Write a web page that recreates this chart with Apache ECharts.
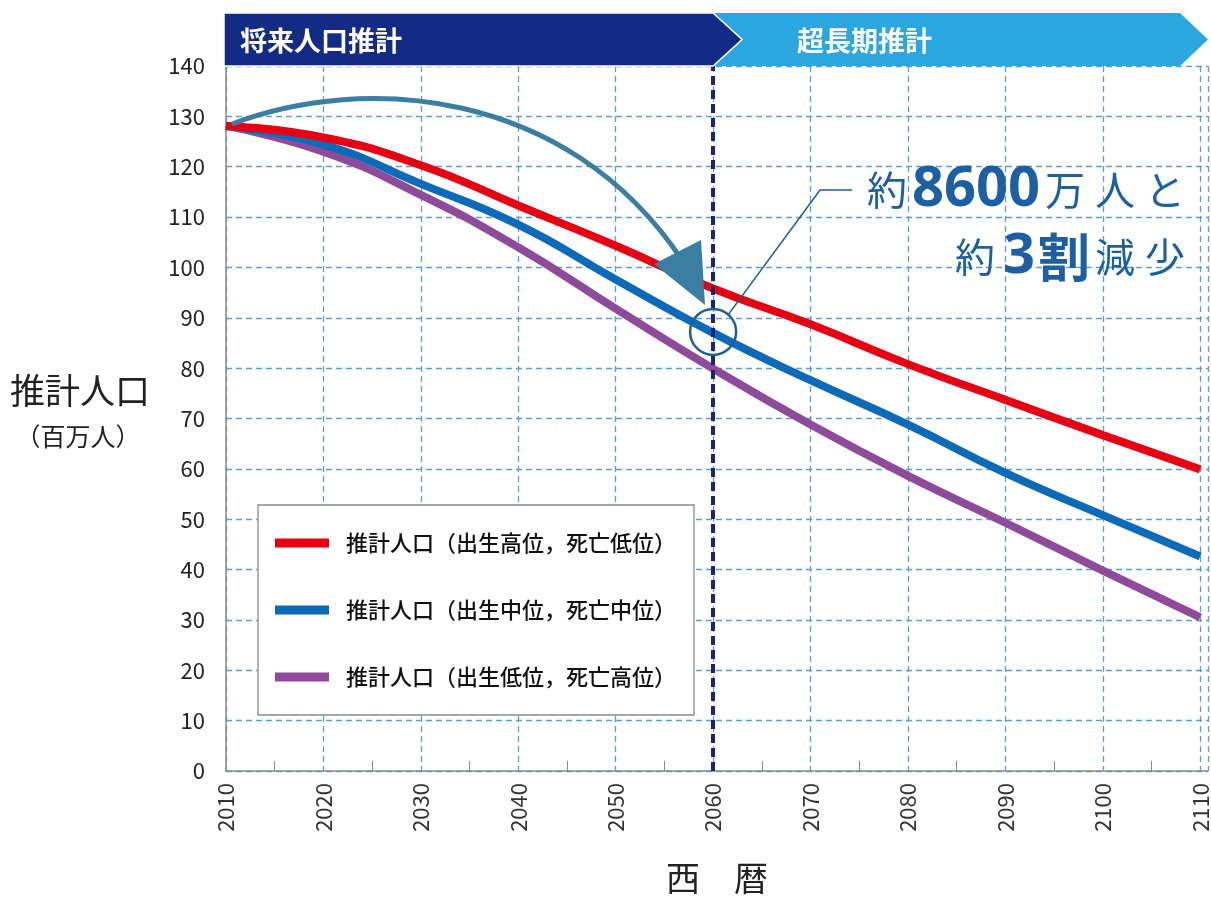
<!DOCTYPE html>
<html>
<head>
<meta charset="UTF-8">
<title>将来人口推計</title>
<script src="https://cdn.jsdelivr.net/npm/echarts@6/dist/echarts.min.js"></script>
<style>
  html, body { margin: 0; padding: 0; background: #fff; }
  #main { width: 1211px; height: 897px; }
</style>
</head>
<body>
<div id="main"></div>
<script>
// 西暦
var years = [2010, 2020, 2030, 2040, 2050, 2060, 2070, 2080, 2090, 2100, 2110];
// 推計人口（百万人）
var popHigh = [128.1, 125.8, 120.3, 112.3, 104.3, 95.8, 88.7, 80.8, 73.7, 66.7, 59.9];
var popMid  = [128.1, 124.4, 116.6, 108.5, 97.6, 87.0, 77.6, 68.8, 59.2, 50.8, 42.6];
var popLow  = [128.1, 123.0, 114.4, 104.0, 91.8, 79.9, 68.8, 58.6, 49.3, 39.8, 30.5];
var seriesNames = ['推計人口（出生高位，死亡低位）', '推計人口（出生中位，死亡中位）', '推計人口（出生低位，死亡高位）'];
var seriesColors = ['#e60012', '#0b6bb8', '#8e4b9b'];
var splitYear = 2060;

var FONT = '"Noto Sans CJK JP", "Noto Sans", sans-serif';
var chart = echarts.init(document.getElementById('main'));

function pairs(vals) {
  return years.map(function (y, i) { return [y, vals[i]]; });
}

var lineSeries = [popHigh, popMid, popLow].map(function (vals, i) {
  return {
    name: seriesNames[i],
    type: 'line',
    data: pairs(vals),
    smooth: true,
    symbol: 'none',
    z: 3 - i,
    lineStyle: { color: seriesColors[i], width: 8 },
    itemStyle: { color: seriesColors[i] }
  };
});

// 2060年の境界線
lineSeries.push({
  type: 'line',
  data: [],
  z: 10,
  markLine: {
    silent: true,
    symbol: 'none',
    label: { show: false },
    lineStyle: { color: '#1b2380', width: 4, type: [9, 5] },
    data: [{ xAxis: splitYear }]
  }
});

var option = {
  animation: false,
  backgroundColor: '#fff',
  grid: { left: 226, right: 3, top: 66, bottom: 126, outerBoundsMode: 'none', containLabel: false },
  legend: {
    data: seriesNames,
    orient: 'vertical',
    left: 258,
    top: 505,
    padding: [27, 18, 27, 17],
    itemGap: 45,
    itemWidth: 54,
    itemHeight: 9,
    icon: 'rect',
    backgroundColor: '#fff',
    borderColor: '#8a8a8a',
    borderWidth: 1.3,
    textStyle: { fontFamily: FONT, fontSize: 22, fontWeight: 500, color: '#111', padding: [0, 0, 0, 12] }
  },
  xAxis: {
    type: 'value',
    min: 2010,
    max: 2110.8,
    interval: 10,
    name: '西　暦',
    nameLocation: 'middle',
    nameGap: 90,
    nameTextStyle: { fontFamily: FONT, fontSize: 34, color: '#222' },
    axisLine: { lineStyle: { color: '#8a8a8a', width: 1.5 } },
    axisTick: { show: false, inside: true },
    minorTick: { show: true, splitNumber: 2, length: 10, lineStyle: { color: '#8a8a8a', width: 1 } },
    axisLabel: {
      rotate: 90,
      margin: 12,
      fontFamily: FONT,
      fontSize: 22,
      color: '#333',
      formatter: function (v) { return v % 10 === 0 ? String(v) : ''; }
    },
    splitLine: { show: true, lineStyle: { color: '#5a9fd8', width: 1.3, type: [6, 4] } }
  },
  yAxis: {
    type: 'value',
    min: 0,
    max: 140,
    interval: 10,
    axisLine: { show: true, lineStyle: { color: '#8a8a8a', width: 1.5 } },
    axisTick: { show: false },
    axisLabel: { margin: 21, fontFamily: FONT, fontSize: 22, color: '#222' },
    splitLine: { show: true, lineStyle: { color: '#5a9fd8', width: 1.3, type: [6, 4] } }
  },
  series: lineSeries
};

chart.setOption(option);

// 注記（帯・矢印・丸・文字）
var c = chart.convertToPixel({ gridIndex: 0 }, [splitYear, popMid[5]]);
var pTL = chart.convertToPixel({ gridIndex: 0 }, [2010, 140]);
var pBR = chart.convertToPixel({ gridIndex: 0 }, [2110.8, 0]);
var splitX = c[0];
var bandBottom = pTL[1], bandTop = 13, bandMid = (bandTop + bandBottom) / 2;
var blue = '#1d5fa3';
var big = { fontFamily: '"Open Sans", sans-serif', fontWeight: 'bold', fontSize: 56, fill: blue };
var small = { fontFamily: FONT, fontSize: 40, fill: blue, padding: [0, 5, 0, 5] };

chart.setOption({
  graphic: [
    {
      type: 'polygon',
      shape: { points: [[splitX, bandTop], [pBR[0] - 28, bandTop], [pBR[0], bandMid], [pBR[0] - 28, bandBottom], [splitX, bandBottom]] },
      style: { fill: '#2aa7df' }, z: 20
    },
    {
      type: 'polygon',
      shape: { points: [[pTL[0] - 2, bandTop], [splitX, bandTop], [splitX + 29, bandMid], [splitX, bandBottom], [pTL[0] - 2, bandBottom]] },
      style: { fill: '#142b86', stroke: '#fff', lineWidth: 1.5 }, z: 21
    },
    {
      type: 'text', x: 240, y: bandMid + 1, z: 22,
      style: { text: '将来人口推計', fill: '#fff', font: 'bold 27px ' + FONT, verticalAlign: 'middle' }
    },
    {
      type: 'text', x: 797, y: bandMid + 1, z: 22,
      style: { text: '超長期推計', fill: '#fff', font: 'bold 27px ' + FONT, verticalAlign: 'middle' }
    },
    // 縦軸名
    {
      type: 'text', x: 80, y: 391, z: 22,
      style: { text: '推計人口', fill: '#222', font: '35px ' + FONT, align: 'center', verticalAlign: 'middle' }
    },
    {
      type: 'text', x: 78, y: 436, z: 22,
      style: { text: '（百万人）', fill: '#222', font: '25px ' + FONT, align: 'center', verticalAlign: 'middle' }
    },
    // 曲線矢印
    {
      type: 'bezierCurve', z: 15,
      shape: { x1: 232, y1: 124, cpx1: 360, cpy1: 75, cpx2: 565, cpy2: 85, x2: 682, y2: 260 },
      style: { stroke: '#3a7ea1', lineWidth: 5, fill: null }
    },
    {
      type: 'polygon', z: 15,
      shape: { points: [[654, 264], [701, 240], [705, 305]] },
      style: { fill: '#3a7ea1' }
    },
    // 2060年の丸
    {
      type: 'circle', z: 16,
      shape: { cx: c[0], cy: c[1] - 1, r: 23 },
      style: { stroke: '#1f5f99', lineWidth: 2.5, fill: null }
    },
    {
      type: 'polyline', z: 16,
      shape: { points: [[c[0] + 15, c[1] - 18], [820, 190], [852, 190]] },
      style: { stroke: '#1f5f99', lineWidth: 1.6, fill: null }
    },
    {
      type: 'text', x: 1190, y: 190, z: 22,
      style: {
        text: '{a|約}{b|8600}{a|万}{a|人}{a|と}',
        align: 'right', verticalAlign: 'middle',
        rich: { a: small, b: big }
      }
    },
    {
      type: 'text', x: 1190, y: 257, z: 22,
      style: {
        text: '{a|約}{b|3}{c|割}{a|減}{a|少}',
        align: 'right', verticalAlign: 'middle',
        rich: {
          a: small,
          b: { fontFamily: '"Open Sans", sans-serif', fontWeight: 'bold', fontSize: 56, fill: blue, padding: [0, 3, 0, 3] },
          c: { fontFamily: FONT, fontWeight: 'bold', fontSize: 52, fill: blue }
        }
      }
    }
  ]
});
</script>
</body>
</html>
